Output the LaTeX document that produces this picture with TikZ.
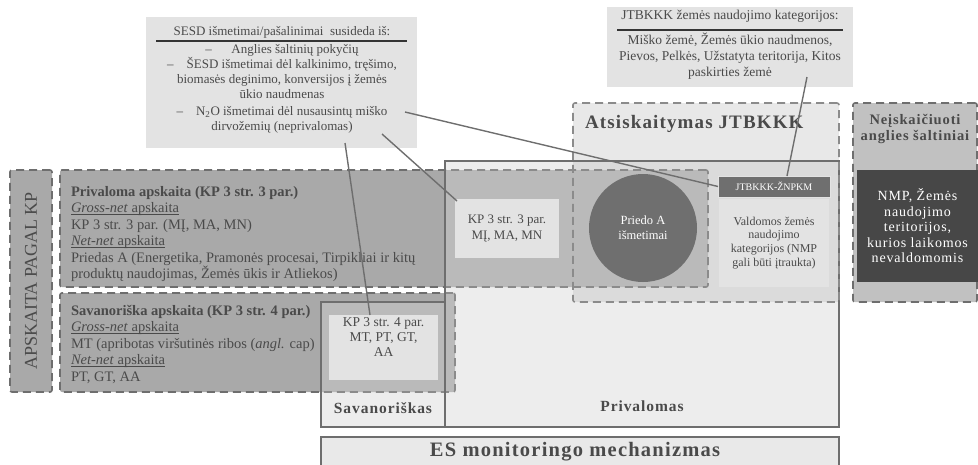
\documentclass[tikz,border=0pt]{standalone}
\usepackage{fontspec}
\setmainfont{Liberation Serif}
\newfontfamily\spacedfont[LetterSpace=6]{Liberation Serif}
\usetikzlibrary{positioning}
\usetikzlibrary{calc}

\definecolor{txtgrey}{HTML}{4A4A4A}
\definecolor{edgegrey}{HTML}{6E6E6E}
\definecolor{midgrey}{HTML}{A9A9A9}
\definecolor{lightgrey}{HTML}{E3E3E3}
\definecolor{framegrey}{HTML}{E9E9E9}
\definecolor{darkgrey}{HTML}{474747}
\definecolor{circgrey}{HTML}{6F6F6F}
\definecolor{sidegrey}{HTML}{C1C1C1}

% close underline for the sub-headings
\newcommand\ulin[1]{\setbox0\hbox{#1}\rlap{\rule[-1.6pt]{\wd0}{0.6pt}}\box0}

\tikzset{
	every node/.style={inner sep=0pt,outer sep=0pt,text=txtgrey},
	frame/.style={draw=edgegrey,fill=framegrey,line width=1.4pt,anchor=north west},
	dashbox/.style={draw=edgegrey,fill=midgrey,line width=1.6pt,dash pattern=on 8pt off 5pt,rounded corners=2pt,anchor=north west},
	litebox/.style={fill=lightgrey,anchor=north west},
	link/.style={draw=edgegrey,line width=1.4pt},
	bodytext/.style={font=\fontsize{14.5}{16.5}\selectfont,align=left,anchor=north west},
	notetext/.style={font=\fontsize{13}{15}\selectfont,align=center},
	headtext/.style={font=\spacedfont\bfseries\fontsize{15.5}{16}\selectfont},
}

\begin{document}
\begin{tikzpicture}[x=1pt,y=-1pt]
		\useasboundingbox (0,0) rectangle (978,464);
		
		%solid frames....................
		\node [frame,minimum width=124pt,minimum height=125pt] (savfr) at (321,302) {};
		\node [frame,minimum width=394pt,minimum height=266pt] (privfr) at (445,161) {};
		\node [frame,minimum width=518pt,minimum height=32pt] (esfr) at (321,437) {};
		
		%UNFCCC reporting area....................
		\fill [black,opacity=0.09] (573,103) rectangle (839,302);
		
		%dashed boxes on the left.....................
		\node [dashbox,minimum width=42pt,minimum height=222pt] (kpside) at (10,170) {};
		\node [dashbox,minimum width=648pt,minimum height=117pt] (privbox) at (60,170) {};
		\node [dashbox,minimum width=395pt,minimum height=99pt] (savbox) at (60,293) {};
		
		%lighten what lies in the frames.............
		\fill [white,opacity=0.2] (savfr.north west) rectangle (savfr.south east);
		\fill [white,opacity=0.2] (privfr.north west) rectangle (privfr.south east);
		\draw [edgegrey,line width=1.4pt] (savfr.north west) rectangle (savfr.south east);
		\draw [edgegrey,line width=1.4pt] (privfr.north west) rectangle (privfr.south east);
		
		%dashed boxes on the right.....................
		\node [dashbox,fill=none,draw=edgegrey!80,minimum width=266pt,minimum height=199pt] (unfccc) at (573,103) {};
		\node [dashbox,fill=sidegrey,minimum width=124pt,minimum height=199pt] (notcount) at (853,103) {};
		\node [fill=darkgrey,anchor=north west,minimum width=121pt,minimum height=112pt] (uncontr) at (857,170) {};
		
		%note boxes at the top....................
		\node [litebox,minimum width=271pt,minimum height=131pt] (sesd) at (146,17) {};
		\node [litebox,minimum width=246pt,minimum height=80pt] (jtb) at (607,7) {};
		
		%inner boxes.......................
		\node [litebox,minimum width=104pt,minimum height=59pt,align=center,font=\fontsize{13}{16}\selectfont] (kp3) at (455,199) {KP 3 str. 3 par.\\MĮ, MA, MN};
		\node [litebox,minimum width=109pt,minimum height=65pt,align=center,font=\fontsize{13.5}{15}\selectfont] (kp4) at (329,315) {KP 3 str. 4 par.\\MT, PT, GT,\\AA\\[5pt]};
		\node [circle,fill=circgrey,minimum size=108pt,align=center,text=white,font=\fontsize{12.5}{15}\selectfont] (annexa) at (643,228) {Priedo A\\išmetimai};
		\node [litebox,minimum width=110pt,minimum height=88pt,align=center,font=\fontsize{12}{13.8}\selectfont] (managed) at (719,199) {Valdomos žemės\\naudojimo\\kategorijos (NMP\\gali būti įtraukta)};
		\node [fill=circgrey,draw=lightgrey,line width=0.8pt,anchor=north west,minimum width=112pt,minimum height=21pt,text=white,font=\fontsize{10}{10}\selectfont] (znpkm) at (718,176) {JTBKKK-ŽNPKM};
		
		%texts in the left boxes......................
		\node [rotate=90,font=\fontsize{18}{18}\selectfont] (kplabel) at (kpside.center) {APSKAITA PAGAL KP};
		\node [bodytext] (privtxt) at (71,186) {\textbf{Privaloma apskaita (KP 3 str. 3 par.)}\\
			\ulin{\textit{Gross-net} apskaita}\\
			KP 3 str. 3 par. (MĮ, MA, MN)\\
			\ulin{\textit{Net-net} apskaita}\\
			Priedas A (Energetika, Pramonės procesai, Tirpikliai ir kitų\\
			produktų naudojimas, Žemės ūkis ir Atliekos)};
		\node [bodytext] (savtxt) at (71,305) {\textbf{Savanoriška apskaita (KP 3 str. 4 par.)}\\
			\ulin{\textit{Gross-net} apskaita}\\
			MT (apribotas viršutinės ribos (\textit{angl.} cap)\\
			\ulin{\textit{Net-net} apskaita}\\
			PT, GT, AA};
		
		%texts in the note boxes....................
		\node [notetext] (sesdtitle) at (282,32) {SESD išmetimai/pašalinimai\ \ susideda iš:};
		\draw [txtgrey!70!black,line width=1.2pt] (156,41) -- (407,41);
		\node [notetext] (sesdlist) at (282,89) {–\hspace{1.5em}Anglies šaltinių pokyčių\\
			–\hspace{1em}ŠESD išmetimai dėl kalkinimo, tręšimo,\\
			biomasės deginimo, konversijos į žemės\\
			ūkio naudmenas\\[2pt]
			–\hspace{1em}N\textsubscript{2}O išmetimai dėl nusausintų miško\\
			dirvožemių (neprivalomas)};
		\node [notetext,font=\fontsize{13.5}{16}\selectfont] (jtbtitle) at (730,16) {JTBKKK žemės naudojimo kategorijos:};
		\draw [txtgrey!70!black,line width=1.2pt] (617,30) -- (843,30);
		\node [notetext,font=\fontsize{13.5}{16}\selectfont] (jtblist) at (730,56) {Miško žemė, Žemės ūkio naudmenos,\\
			Pievos, Pelkės, Užstatyta teritorija, Kitos\\
			paskirties žemė};
		
		%titles......................
		\node [font=\spacedfont\bfseries\fontsize{19}{20}\selectfont,anchor=west] (unfccctitle) at (585,124) {Atsiskaitymas JTBKKK};
		\node [align=center,font=\spacedfont\bfseries\fontsize{14.5}{16.5}\selectfont] (notcounttitle) at (915,129) {Neįskaičiuoti\\anglies šaltiniai};
		\node [align=center,text=white,font=\spacedfont\fontsize{14}{15.5}\selectfont] (uncontrtxt) at (uncontr.center) {NMP, Žemės\\naudojimo\\teritorijos,\\kurios laikomos\\nevaldomomis};
		\node [headtext] (savlabel) at (383,408) {Savanoriškas};
		\node [headtext] (privlabel) at (642,406) {Privalomas};
		\node [font=\spacedfont\bfseries\fontsize{20.5}{22}\selectfont] (eslabel) at (575,452) {ES monitoringo mechanizmas};
		
		%connectors......................
		\draw [link] ([xshift=63.5pt,yshift=5pt]sesd.south) -- ([xshift=-13.5pt]kp4.north);
		\draw [link] ([xshift=100.5pt,yshift=14pt]sesd.south) -- ([xshift=2pt,yshift=-2pt]kp3.north west);
		\draw [link] ([xshift=-12pt,yshift=-29.5pt]sesd.east) -- (znpkm.west);
		\draw [link] ([xshift=77pt,yshift=10pt]jtb.south) -- ([xshift=13pt]znpkm.north);
		
	\end{tikzpicture}
\end{document}
